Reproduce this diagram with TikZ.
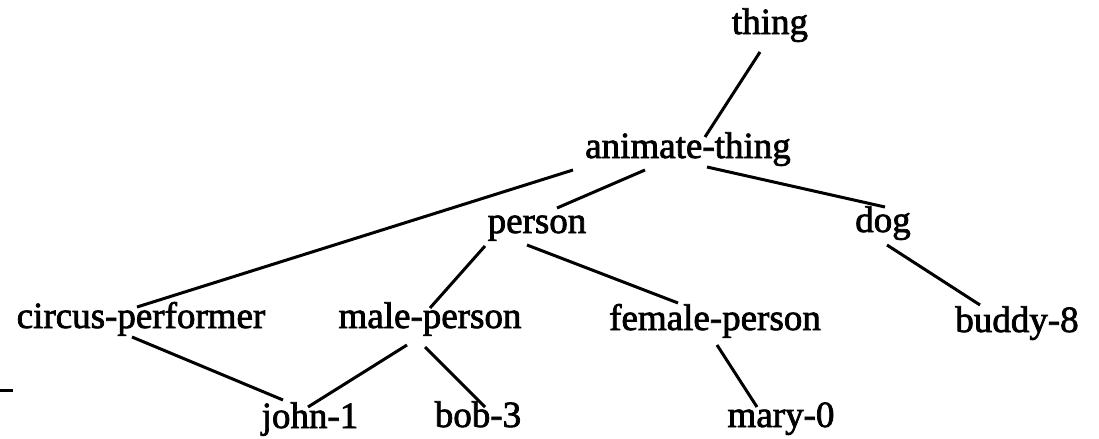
\documentclass[tikz,border=0pt]{standalone}
\usepackage{fontspec}
\setmainfont{Liberation Serif}[FakeBold=2]
\usetikzlibrary{calc}

\begin{document}
\begin{tikzpicture}[x=0.5pt,y=-0.5pt,line width=1.5pt,
  word/.style={anchor=base,inner sep=0pt,font=\fontsize{18.5}{20}\selectfont}]
  \useasboundingbox (0,0) rectangle (1099,439);
  % words
  \node[word] (thing) at (770,34) {thing};
  \node[word] (animate) at (688,158) {animate-thing};
  \node[word] (person) at (537,233) {person};
  \node[word] (dog) at (883,232) {dog};
  \node[word] (circus) at (141,328) {circus-performer};
  \node[word] (male) at (430,328) {male-person};
  \node[word] (female) at (715,330) {female-person};
  \node[word] (buddy) at (1017,332) {buddy-8};
  \node[word] (john) at (310,428) {john-1};
  \node[word] (bob) at (478,427) {bob-3};
  \node[word] (mary) at (781,427) {mary-0};
  % links
  \draw ($(thing.base)+(-10,18)$) -- ($(animate.base)+(17,-21)$);
  \draw ($(animate.base)+(-43,12)$) -- ($(person.base)+(20,-25)$);
  \draw ($(animate.base)+(-115,12)$) -- ($(circus.base)+(-4,-21)$);
  \draw ($(animate.base)+(19,9)$) -- ($(dog.base)+(2,-25)$);
  \draw ($(person.base)+(-52,13)$) -- ($(male.base)+(0,-20)$);
  \draw ($(person.base)+(-10,12)$) -- ($(female.base)+(-37,-27)$);
  \draw ($(dog.base)+(4,13)$) -- ($(buddy.base)+(-37,-27)$);
  \draw ($(circus.base)+(-9,9)$) -- ($(john.base)+(-27,-28)$);
  \draw ($(male.base)+(-23,17)$) -- ($(john.base)+(-2,-21)$);
  \draw ($(male.base)+(-5,19)$) -- ($(bob.base)+(7,-20)$);
  \draw ($(female.base)+(2,15)$) -- ($(mary.base)+(-24,-20)$);
  \draw (0,390) -- (13,390);
\end{tikzpicture}
\end{document}
